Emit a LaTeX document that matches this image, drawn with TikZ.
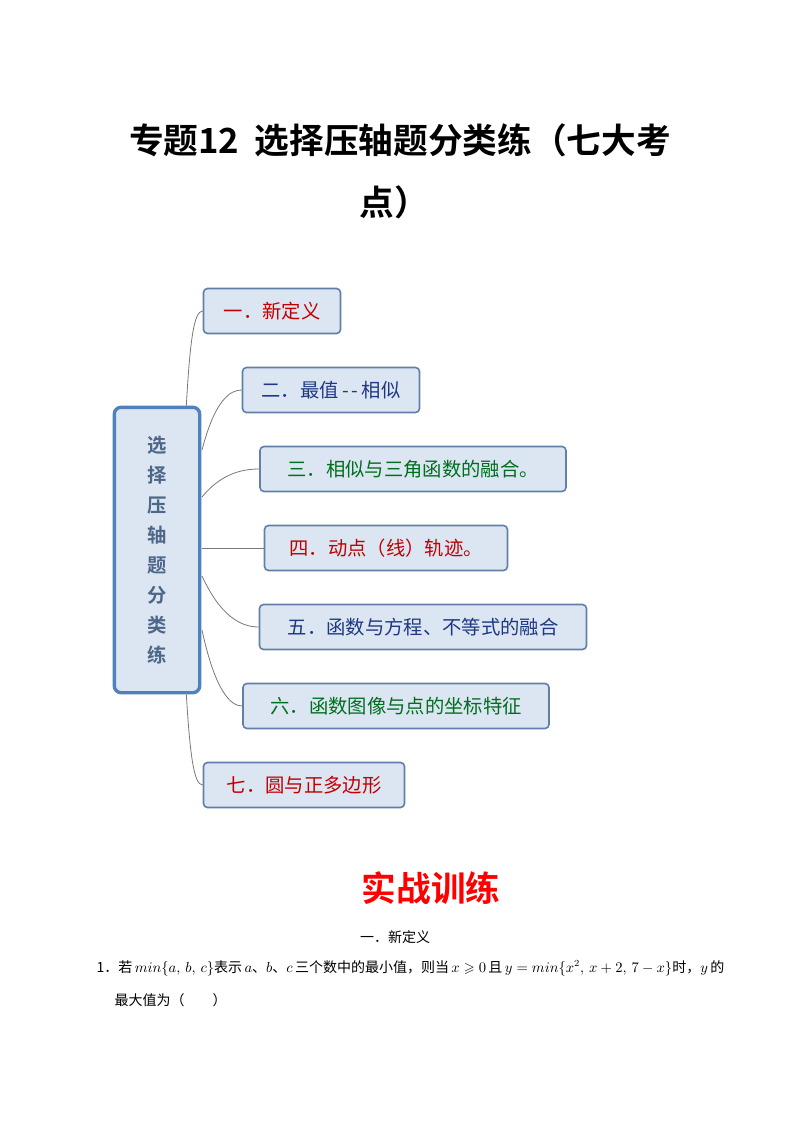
\documentclass[tikz,border=0pt]{standalone}
\usepackage{amssymb}
\usepackage{fontspec}
\usepackage{xcolor}
\usetikzlibrary{positioning}
\newfontfamily\cjk{Noto Sans CJK SC}
\newfontfamily\cjkb{Noto Sans CJK SC Bold}
\definecolor{boxfill}{RGB}{220,230,242}
\definecolor{boxline}{RGB}{96,128,170}
\definecolor{mainline}{RGB}{79,129,189}
\definecolor{txtred}{RGB}{192,0,0}
\definecolor{txtblue}{RGB}{31,56,130}
\definecolor{txtgreen}{RGB}{0,110,30}
\definecolor{stemgray}{RGB}{120,120,120}
\begin{document}
\begin{tikzpicture}[x=0.75pt,y=-0.75pt,
  topic/.style={draw=boxline, line width=1.2pt, fill=boxfill, rounded corners=3pt, minimum height=33.75pt, inner xsep=10pt, font=\cjk\fontsize{14.5}{15}\selectfont},
  stem/.style={draw=stemgray, line width=0.6pt}]
\useasboundingbox (0,0) rectangle (794,1123);
\node (title1) [font=\cjkb\fontsize{26}{27}\selectfont] at (400,140) {专题12\ \ 选择压轴题分类练（七大考};
\node (title2) [font=\cjkb\fontsize{26}{27}\selectfont] at (394,202) {点）};
\node (main) [draw=mainline, line width=2.5pt, fill=boxfill, rounded corners=5pt, minimum width=64pt, minimum height=214pt, align=center, text=boxline!80!black, font=\cjkb\fontsize{14.5}{22.5}\selectfont] at (157,550) {选\\择\\压\\轴\\题\\分\\类\\练};
\node (t1) [topic, text=txtred, minimum width=102.75pt] at (272,311) {一．新定义};
\node (t2) [topic, text=txtblue, minimum width=132.75pt] at (331,390) {二．最值\,-\,-\,相似};
\node (t3) [topic, text=txtgreen, minimum width=229.5pt] at (413,469) {三．相似与三角函数的融合。};
\node (t4) [topic, text=txtred, minimum width=182.25pt] at (386,548) {四．动点（线）轨迹。};
\node (t5) [topic, text=txtblue, minimum width=245.25pt] at (423,627) {五．函数与方程、不等式的融合};
\node (t6) [topic, text=txtgreen, minimum width=229.5pt] at (396,706) {六．函数图像与点的坐标特征};
\node (t7) [topic, text=txtred, minimum width=150.75pt] at (304,785) {七．圆与正多边形};
\coordinate (up) at ([xshift=22pt]main.north);
\coordinate (down) at ([xshift=22pt]main.south);
\draw [stem] (up) .. controls (190,340) and (194,311) .. (t1.west);
\draw [stem] (202,450) .. controls (215,400) and (230,390) .. (t2.west);
\draw [stem] (202,497) .. controls (220,475) and (240,469) .. (t3.west);
\draw [stem] (202,548) -- (t4.west);
\draw [stem] (202,576) .. controls (220,615) and (240,627) .. (t5.west);
\draw [stem] (202,630) .. controls (215,690) and (230,706) .. (t6.west);
\draw [stem] (down) .. controls (190,756) and (194,785) .. (t7.west);
\node (drill) [text=red, font=\cjkb\fontsize{26}{27}\selectfont] at (431,888) {实战训练};
\node (sect) [font=\cjk\fontsize{10.5}{11}\selectfont] at (395,937) {一．新定义};
\node (q1) [anchor=west, font=\cjk\fontsize{10.5}{11}\selectfont] at (92,968) {1．若\,$min\{a,\,b,\,c\}$表示\,$a$、$b$、$c$\,三个数中的最小值，则当\,$x\geqslant0$\,且\,$y=min\{x^2,\,x+2,\,7-x\}$时，$y$\,的};
\node (q2) [anchor=west, font=\cjk\fontsize{10.5}{11}\selectfont] at (110,1000) {最大值为（\qquad）};
\end{tikzpicture}
\end{document}
